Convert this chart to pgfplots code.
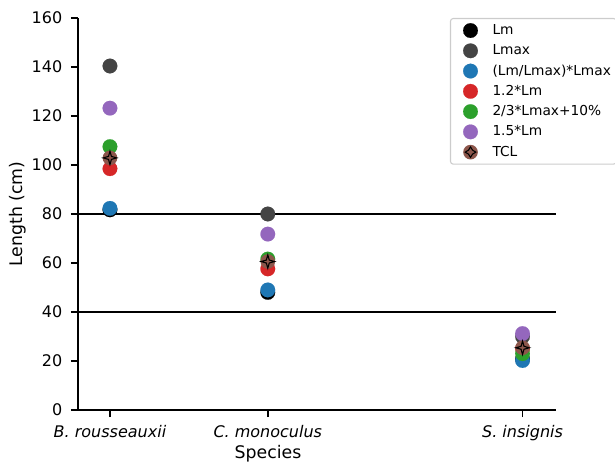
\documentclass[border=0pt]{standalone}
\usepackage{fontspec}
\setmainfont{DejaVu Sans}
\usepackage{pgfplots}
\pgfplotsset{compat=1.18}
\definecolor{cLm}{HTML}{000000}
\definecolor{cLmax}{HTML}{444444}
\definecolor{cblue}{HTML}{1F77B4}
\definecolor{cred}{HTML}{D62728}
\definecolor{cgreen}{HTML}{2CA02C}
\definecolor{cpurple}{HTML}{9467BD}
\definecolor{cbrown}{HTML}{8C564B}
\definecolor{legframe}{HTML}{CCCCCC}
\pgfdeclareplotmark{tcl}{%
  \pgfpathcircle{\pgfpointorigin}{\pgfplotmarksize}%
  \pgfsetfillcolor{cbrown}\pgfusepath{fill}%
  \pgfpathmoveto{\pgfpoint{0pt}{0.92\pgfplotmarksize}}%
  \pgfpathlineto{\pgfpoint{0.2\pgfplotmarksize}{0.2\pgfplotmarksize}}%
  \pgfpathlineto{\pgfpoint{0.92\pgfplotmarksize}{0pt}}%
  \pgfpathlineto{\pgfpoint{0.2\pgfplotmarksize}{-0.2\pgfplotmarksize}}%
  \pgfpathlineto{\pgfpoint{0pt}{-0.92\pgfplotmarksize}}%
  \pgfpathlineto{\pgfpoint{-0.2\pgfplotmarksize}{-0.2\pgfplotmarksize}}%
  \pgfpathlineto{\pgfpoint{-0.92\pgfplotmarksize}{0pt}}%
  \pgfpathlineto{\pgfpoint{-0.2\pgfplotmarksize}{0.2\pgfplotmarksize}}%
  \pgfpathclose
  \pgfsetfillcolor{cbrown}\pgfsetstrokecolor{black}\pgfsetlinewidth{0.8pt}%
  \pgfusepath{fill,stroke}%
}
\begin{document}
\begin{tikzpicture}
\begin{axis}[
  at={(58.5pt,41.25pt)}, anchor=south west, scale only axis,
  width=358.5pt, height=294pt,
  xmin=-0.2025, xmax=2.826, ymin=0, ymax=160,
  axis lines*=left,
  axis line style={line width=1.5pt, -},
  xtick={0,1,2.614},
  xticklabels={\itshape B. rousseauxii, \itshape C. monoculus, \itshape S. insignis},
  ytick={0,20,...,160},
  tick align=outside, major tick length=5.25pt,
  tick style={line width=1.1pt, black},
  /pgf/number format/assume math mode=true,
  ticklabel style={font=\fontsize{12}{14}\selectfont},
  xticklabel style={anchor=base, yshift=-15pt},
  yticklabel style={anchor=east, xshift=-3pt},
  xlabel={Species}, ylabel={Length (cm)},
  label style={font=\fontsize{13}{15}\selectfont},
  xlabel style={at={(axis description cs:0.3975,-0.12245)}, anchor=base},
  ylabel style={at={(axis description cs:-0.11506,0.5)}, anchor=base},
  clip=false,
  every axis plot/.append style={only marks, mark size=5.5pt},
  legend image code/.code={\pgfpathrectangle{\pgfpoint{-11pt}{-5.5pt}}{\pgfpoint{16.5pt}{11pt}}\pgfusepath{use as bounding box}\draw[#1, mark size=5.5pt] plot coordinates {(0pt,0pt)};},
  legend style={at={(axis description cs:0.7782,1)}, anchor=north west,
    draw=legframe, line width=0.8pt, rounded corners=2pt, fill=white,
    font=\fontsize{10.3}{12}\selectfont, inner xsep=4pt, inner ysep=3.5pt,
    row sep=4.2pt, column sep=11pt, cells={anchor=west}, nodes={inner sep=0pt}},
]
\addplot[black, line width=0.8pt, sharp plot, mark=none, forget plot] coordinates {(-0.2025,40) (2.826,40)};
\addplot[black, line width=0.8pt, sharp plot, mark=none, forget plot] coordinates {(-0.2025,80) (2.826,80)};
\addplot[mark=*, color=cLm, mark options={line width=0.1pt}] coordinates {(0,81.7) (1,48) (2.614,20.8)};
\addlegendentry{Lm}
\addplot[mark=*, color=cLmax, mark options={line width=0.1pt}] coordinates {(0,140.4) (1,80) (2.614,30)};
\addlegendentry{Lmax}
\addplot[mark=*, color=cblue, mark options={line width=0.1pt}] coordinates {(0,82.3) (1,49) (2.614,20.2)};
\addlegendentry{(Lm/Lmax)*Lmax}
\addplot[mark=*, color=cred, mark options={line width=0.1pt}] coordinates {(0,98.5) (1,57.6) (2.614,25)};
\addlegendentry{1.2*Lm}
\addplot[mark=*, color=cgreen, mark options={line width=0.1pt}] coordinates {(0,107.5) (1,61.6) (2.614,23)};
\addlegendentry{2/3*Lmax+10\%}
\addplot[mark=*, color=cpurple, mark options={line width=0.1pt}] coordinates {(0,123.2) (1,71.8) (2.614,31.2)};
\addlegendentry{1.5*Lm}
\addplot[mark=tcl, color=black] coordinates {(0,102.9) (1,60.6) (2.614,25.4)};
\addlegendentry{TCL}
\end{axis}
\pgfresetboundingbox
\useasboundingbox (0,0) rectangle (461.25pt,348.75pt);
\end{tikzpicture}
\end{document}
